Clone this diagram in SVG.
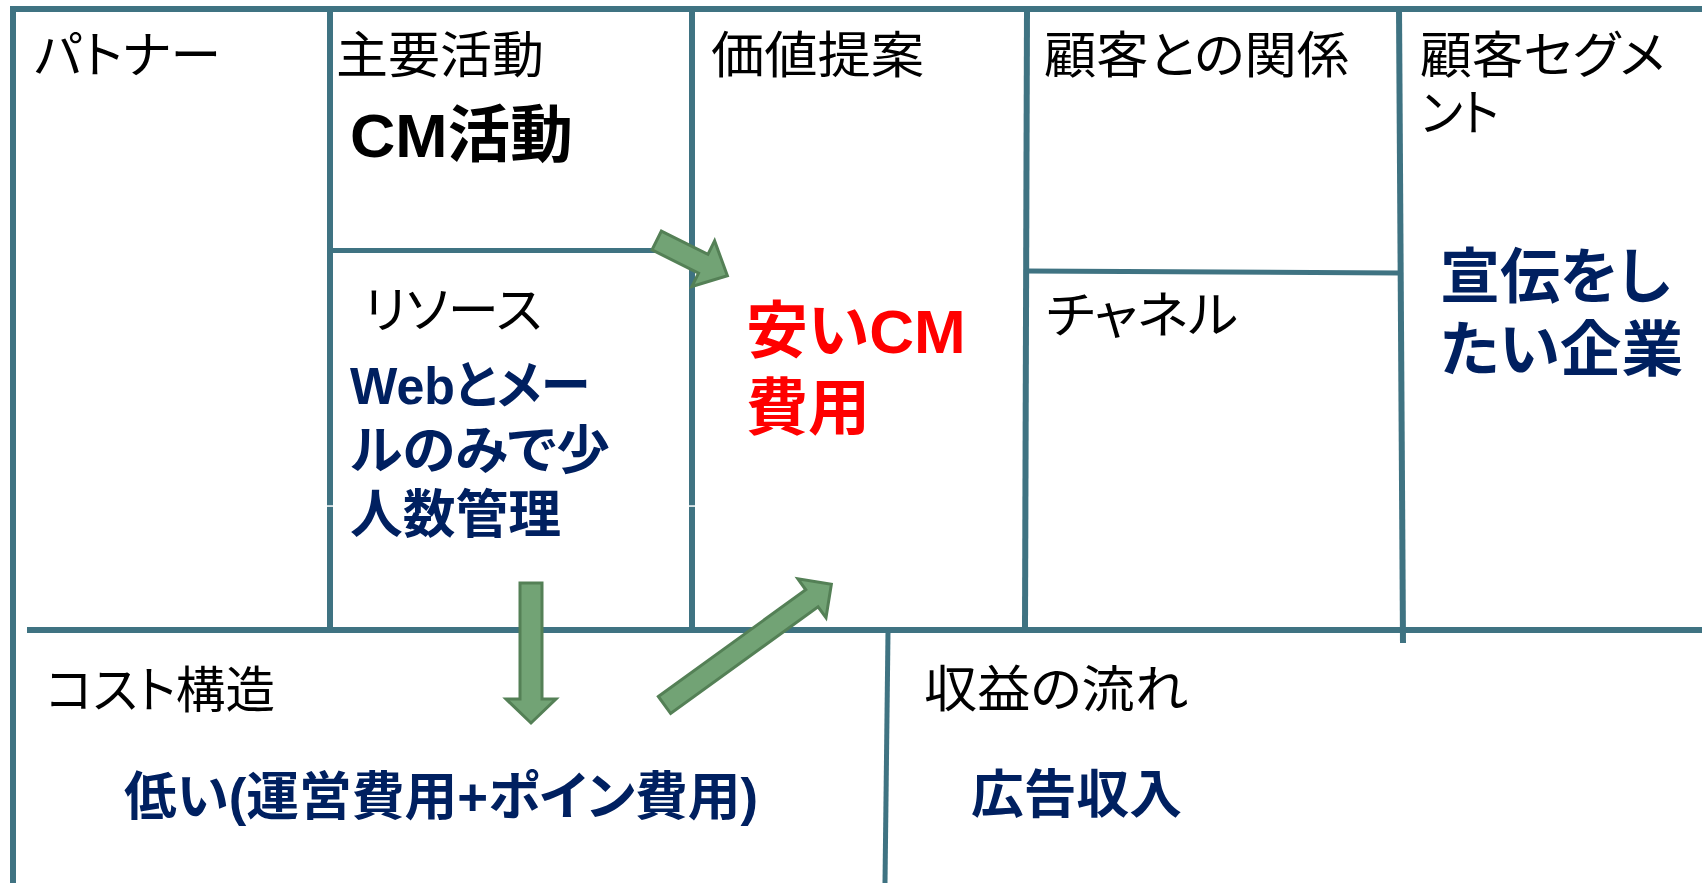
<svg xmlns="http://www.w3.org/2000/svg" width="1702" height="883" viewBox="0 0 1702 883">
<style>
.ln{stroke:#3F7382;stroke-width:6;fill:none;stroke-linecap:butt}
.lt{stroke:#3F7382;stroke-width:5;fill:none}
.hd{font-family:"Noto Sans CJK JP","Liberation Sans",sans-serif;font-size:50px;fill:#000;font-feature-settings:"palt"}
.bd{font-family:"Liberation Sans","Noto Sans CJK JP",sans-serif;font-weight:bold;font-feature-settings:"palt"}
.nv{fill:#002060}
.rd{fill:#FF0000}
.ar{fill:#72A375;stroke:#548056;stroke-width:3;stroke-linejoin:miter}
</style>
<rect width="1702" height="883" fill="#fff"/>
<g id="grid">
<line class="ln" x1="10" y1="9" x2="1702" y2="9"/>
<line class="ln" x1="13" y1="6" x2="13" y2="883"/>
<line class="ln" x1="27" y1="630" x2="1702" y2="630"/>
<line class="ln" x1="330" y1="9" x2="330" y2="627"/>
<line class="ln" x1="692" y1="9" x2="692" y2="627"/>
<line class="ln" x1="1027" y1="9" x2="1025" y2="627"/>
<line class="ln" x1="1399" y1="9" x2="1403" y2="643"/>
<line class="lt" x1="330" y1="250.5" x2="692" y2="250.5"/>
<line class="lt" x1="1026" y1="271" x2="1400" y2="273"/>
<line class="lt" x1="888" y1="632" x2="885" y2="883"/>
<rect x="326" y="505.3" width="8" height="1.5" fill="#fff"/>
<rect x="688" y="505.3" width="8" height="1.5" fill="#fff"/>
</g>
<g id="partners">
<text class="hd" x="34" y="73" textLength="187" lengthAdjust="spacingAndGlyphs">パトナー</text>
</g>
<g id="key-activities">
<text class="hd" x="336" y="73" textLength="208" lengthAdjust="spacingAndGlyphs">主要活動</text>
<text class="bd" x="350" y="157" font-size="62" textLength="223" lengthAdjust="spacingAndGlyphs">CM活動</text>
</g>
<g id="key-resources">
<text class="hd" x="364" y="328" textLength="178" lengthAdjust="spacingAndGlyphs">リソース</text>
<text class="bd nv" font-size="52"><tspan x="350" y="404" textLength="240" lengthAdjust="spacingAndGlyphs">Webとメー</tspan></text>
<text class="bd nv" font-size="52"><tspan x="350" y="469" textLength="260" lengthAdjust="spacingAndGlyphs">ルのみで少</tspan></text>
<text class="bd nv" font-size="52"><tspan x="350" y="533" textLength="211" lengthAdjust="spacingAndGlyphs">人数管理</tspan></text>
</g>
<g id="value-proposition">
<text class="hd" x="711" y="73" textLength="213" lengthAdjust="spacingAndGlyphs">価値提案</text>
<text class="bd rd" font-size="62"><tspan x="746" y="353">安いCM</tspan><tspan x="746" y="430">費用</tspan></text>
</g>
<g id="customer-relationships">
<text class="hd" x="1044" y="73" textLength="305" lengthAdjust="spacingAndGlyphs">顧客との関係</text>
</g>
<g id="channels">
<text class="hd" x="1046" y="333" textLength="192" lengthAdjust="spacingAndGlyphs">チャネル</text>
</g>
<g id="customer-segments">
<text class="hd" x="1420" y="73" textLength="245" lengthAdjust="spacingAndGlyphs">顧客セグメ</text>
<text class="hd" x="1421" y="131" textLength="78" lengthAdjust="spacingAndGlyphs">ント</text>
<text class="bd nv" font-size="60"><tspan x="1440" y="298">宣伝をし</tspan><tspan x="1440" y="371" textLength="243" lengthAdjust="spacingAndGlyphs">たい企業</tspan></text>
</g>
<g id="cost-structure">
<text class="hd" x="46" y="708" textLength="229" lengthAdjust="spacingAndGlyphs">コスト構造</text>
<text class="bd nv" x="124" y="815" font-size="52" textLength="634" lengthAdjust="spacingAndGlyphs">低い(運営費用+ポイン費用)</text>
</g>
<g id="revenue-streams">
<text class="hd" x="924" y="707" textLength="264" lengthAdjust="spacingAndGlyphs">収益の流れ</text>
<text class="bd nv" x="971" y="813" font-size="52" textLength="211" lengthAdjust="spacingAndGlyphs">広告収入</text>
</g>
<g id="connectors">
<polygon class="ar" transform="translate(656.7,240.5) rotate(26.5)" points="0,-10.5 52,-10.5 52,-25.5 79,0 52,25.5 52,10.5 0,10.5"/>
<polygon class="ar" transform="translate(531,583) rotate(90)" points="0,-11 116,-11 116,-25 140,0 116,25 116,11 0,11"/>
<polygon class="ar" transform="translate(664.5,705) rotate(-35.9)" points="0,-10.5 182,-10.5 182,-24 206,0 182,24 182,10.5 0,10.5"/>
</g>
</svg>
